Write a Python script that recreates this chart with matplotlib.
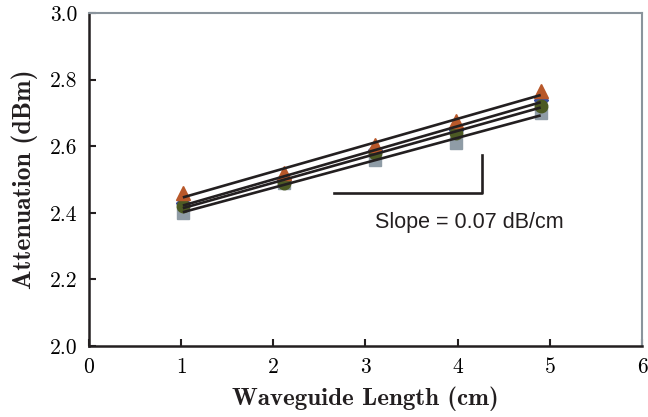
import numpy as np
import matplotlib
matplotlib.use("Agg")
import matplotlib.pyplot as plt

# Data
lengths = [1.02, 2.12, 3.10, 3.98, 4.90]
series_triangle = [2.46, 2.52, 2.605, 2.675, 2.765]
series_blue = [2.43, 2.50, 2.59, 2.65, 2.74]
series_circle = [2.42, 2.49, 2.58, 2.64, 2.72]
series_square = [2.40, 2.49, 2.56, 2.61, 2.70]
x_ticks = [0, 1, 2, 3, 4, 5, 6]
y_ticks = [2.0, 2.2, 2.4, 2.6, 2.8, 3.0]
slope_text = "Slope = 0.07 dB/cm"

fig = plt.figure(figsize=(6.48, 4.17), dpi=100)
ax = fig.add_axes([0.137, 0.170, 0.854, 0.799])

x = np.array(lengths)
ax.plot(x, series_square, ls="none", marker="s", ms=8.0, color="#8f9ca6", zorder=2)
ax.plot(x, series_blue, ls="none", marker="D", ms=7.0, color="#3a4fa0", zorder=2.1)
ax.plot(x, series_circle, ls="none", marker="o", ms=9.0, color="#4c5a24", zorder=2.2)
ax.plot(x, series_triangle, ls="none", marker="^", ms=10.0, color="#b8582a", zorder=2.3)

for s in [series_triangle, series_blue, series_circle, series_square]:
    m, b = np.polyfit(x, s, 1)
    xx = np.array([x.min(), x.max()])
    ax.plot(xx, m * xx + b, color="#231f20", lw=1.9, zorder=3, solid_capstyle="butt")

# slope annotation
ax.plot([2.66, 4.26, 4.26], [2.46, 2.46, 2.575], color="#231f20", lw=1.9, zorder=3)
ax.text(4.13, 2.372, slope_text, ha="center", va="center", fontsize=15.5,
        family="Liberation Sans", color="#231f20")

ax.set_xlim(0, 6)
ax.set_ylim(2.0, 3.0)
ax.set_xticks(x_ticks)
ax.set_yticks(y_ticks)
ax.set_xticklabels([str(v) for v in x_ticks], family="cmr10", fontsize=15.5)
ax.set_yticklabels([f"{v:.1f}" for v in y_ticks], family="cmr10", fontsize=15.5)
ax.tick_params(direction="in", length=5, width=1.5, color="#231f20", pad=8,
               top=False, right=False)

for side in ["left", "bottom"]:
    ax.spines[side].set_color("#231f20")
    ax.spines[side].set_linewidth(1.8)
for side in ["top", "right"]:
    ax.spines[side].set_color("#8a949c")
    ax.spines[side].set_linewidth(1.5)

ax.set_xlabel("Waveguide Length (cm)", family="cmb10", fontsize=18, labelpad=7,
              color="#231f20")
ax.set_ylabel("Attenuation (dBm)", family="cmb10", fontsize=18.5, labelpad=9,
              color="#231f20")

fig.savefig("out.png", dpi=100)
